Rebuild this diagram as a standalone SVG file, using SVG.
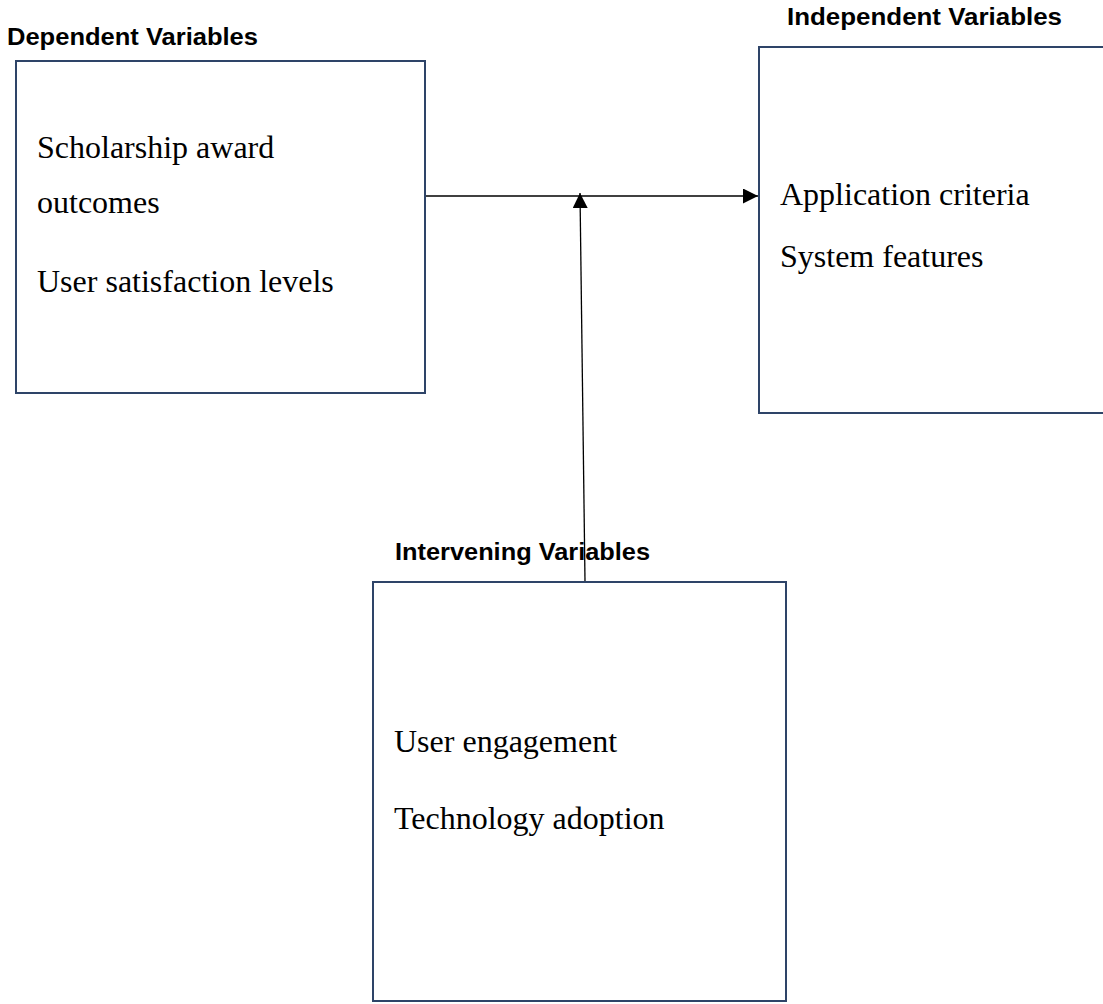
<svg xmlns="http://www.w3.org/2000/svg" width="1103" height="1004" viewBox="0 0 1103 1004">
<style>
.box{fill:#fff;stroke:#2E4468;stroke-width:2}
.title{font-family:"Liberation Sans",Arial,sans-serif;font-weight:bold;font-size:23px;fill:#000}
.body{font-family:"Liberation Serif","Times New Roman",serif;font-size:32px;fill:#000}
.conn{stroke:#000;stroke-width:1.3;fill:none}
</style>
<defs>
<marker id="arrow" markerUnits="userSpaceOnUse" markerWidth="16" markerHeight="16" refX="15" refY="7.5" orient="auto">
<path d="M0,0 L15,7.5 L0,15 Z" fill="#000"/>
</marker>
</defs>
<rect width="1103" height="1004" fill="#fff"/>
<g id="dependent">
<text class="title" x="7" y="45" textLength="251" lengthAdjust="spacingAndGlyphs">Dependent Variables</text>
<rect class="box" x="16" y="61" width="409" height="332"/>
<text class="body" x="37" y="158">Scholarship award</text>
<text class="body" x="37" y="213">outcomes</text>
<text class="body" x="37" y="292">User satisfaction levels</text>
</g>
<g id="independent">
<text class="title" x="787" y="25" textLength="275" lengthAdjust="spacingAndGlyphs">Independent Variables</text>
<rect class="box" x="759" y="47" width="360" height="366"/>
<text class="body" x="780" y="205">Application criteria</text>
<text class="body" x="780" y="267">System features</text>
</g>
<g id="intervening">
<text class="title" x="395" y="560" textLength="255" lengthAdjust="spacingAndGlyphs">Intervening Variables</text>
<rect class="box" x="373" y="582" width="413" height="419"/>
<text class="body" x="394" y="752">User engagement</text>
<text class="body" x="394" y="829">Technology adoption</text>
</g>
<g id="connectors">
<line class="conn" x1="426" y1="196" x2="758" y2="196" marker-end="url(#arrow)"/>
<line class="conn" x1="585" y1="581" x2="580" y2="193" marker-end="url(#arrow)"/>
</g>
</svg>
